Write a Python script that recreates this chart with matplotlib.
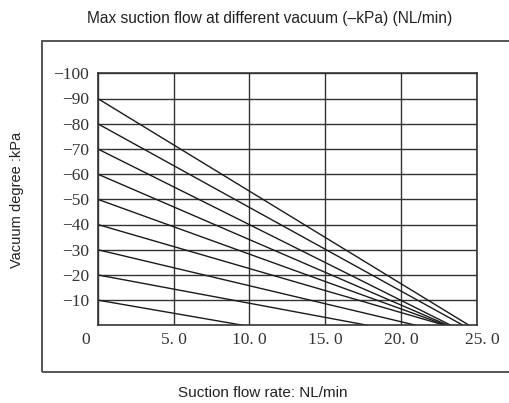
import matplotlib
matplotlib.use("Agg")
import matplotlib.pyplot as plt
from matplotlib.patches import Rectangle
from matplotlib.transforms import ScaledTranslation

# Data: vacuum degree (kPa) at zero flow and max flow (NL/min) at zero vacuum
vacuum_levels = [-10, -20, -30, -40, -50, -60, -70, -80, -90]
max_flow = [9.6, 17.8, 21.0, 22.9, 23.0, 23.1, 23.3, 24.1, 24.5]

x_ticks = [0, 5, 10, 15, 20, 25]
x_tick_labels = ["0", "5. 0", "10. 0", "15. 0", "20. 0", "25. 0"]
y_ticks = [-100, -90, -80, -70, -60, -50, -40, -30, -20, -10]
y_tick_labels = ["\u2212100", "\u221290", "\u221280", "\u221270", "\u221260",
                 "\u221250", "\u221240", "\u221230", "\u221220", "\u221210"]

W, H = 510, 403
fig = plt.figure(figsize=(W / 100, H / 100), dpi=100)

# Outer frame
fig.patches.append(Rectangle((42 / W, (H - 372) / H), 1.0, (372 - 41) / H,
                             transform=fig.transFigure, fill=False,
                             edgecolor="#555555", linewidth=1.4))

ax = fig.add_axes([97.7 / W, (H - 325.3) / H, 379 / W, 252 / H])

for v, e in zip(vacuum_levels, max_flow):
    ax.plot([0, e], [v, 0], color="#1a1a1a", linewidth=1.0, solid_capstyle="butt")

ax.set_xlim(0, 25)
ax.set_ylim(0, -100)

ax.set_xticks(x_ticks)
ax.set_xticklabels(x_tick_labels, fontfamily="Liberation Serif", fontsize=12.5)
ax.set_yticks(y_ticks)
ax.set_yticklabels(y_tick_labels, fontfamily="Liberation Serif", fontsize=12.5)
ax.tick_params(length=0, pad=6, colors="#333333")
ax.tick_params(axis="x", pad=5)

# shift "0" label left, like the reference
lbl0 = ax.get_xticklabels()[0]
lbl0.set_transform(lbl0.get_transform() + ScaledTranslation(-12 / 100, 0, fig.dpi_scale_trans))
lbl_last = ax.get_xticklabels()[-1]
lbl_last.set_transform(lbl_last.get_transform() + ScaledTranslation(6 / 100, 0, fig.dpi_scale_trans))

ax.grid(True, color="#333333", linewidth=1.0)
ax.set_axisbelow(True)
for s in ax.spines.values():
    s.set_color("#333333")
    s.set_linewidth(1.2)

fig.text(270 / W, 1 - 18 / H, "Max suction flow at different vacuum (\u2013kPa) (NL/min)",
         ha="center", va="center", fontfamily="Liberation Sans", fontsize=11.2, color="#222222")
fig.text(263 / W, 1 - 393 / H, "Suction flow rate: NL/min",
         ha="center", va="center", fontfamily="Liberation Sans", fontsize=11, color="#222222")
fig.text(17 / W, 1 - 200 / H, "Vacuum degree :kPa", rotation=90,
         ha="center", va="center", fontfamily="Liberation Sans", fontsize=10.5, color="#222222")

fig.savefig("out.png", dpi=100)
